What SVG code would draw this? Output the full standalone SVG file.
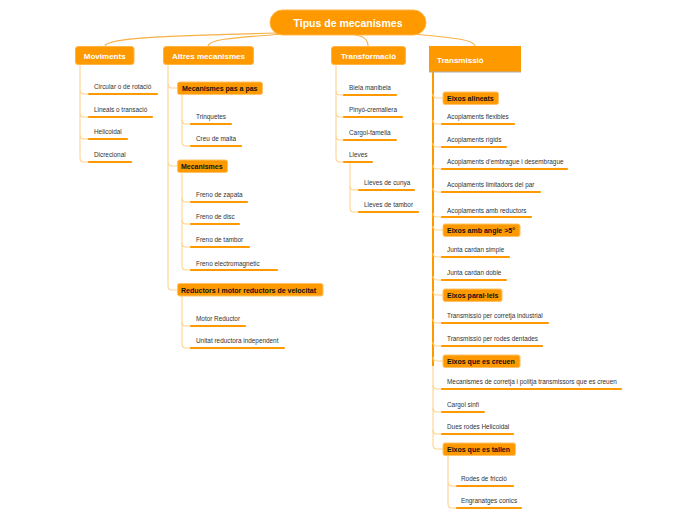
<svg xmlns="http://www.w3.org/2000/svg" width="696" height="520" viewBox="0 0 696 520">
<style>
.root{fill:#FF9900;stroke:#FFB648;stroke-width:1}
.l1{fill:#FF9900;stroke:#FFB648;stroke-width:1}
.l2{fill:#FF9900;stroke:#FFC266;stroke-width:1}
.t0{font-family:"Liberation Sans",Arial,sans-serif;font-weight:bold;font-size:10.5px;fill:#fff}
.t1{font-family:"Liberation Sans",Arial,sans-serif;font-weight:bold;font-size:8px;fill:#fff}
.t2{font-family:"Liberation Sans",Arial,sans-serif;font-weight:bold;font-size:7px;fill:#111}
.t3{font-family:"Liberation Sans",Arial,sans-serif;font-size:6.4px;fill:#333}
.ul{stroke:#FF9900;stroke-width:2.2;stroke-linecap:round;fill:none}
.c1{stroke:#F7B046;stroke-width:1.1;fill:none}
.cp{stroke:#FFD38F;stroke-width:1.1;fill:none}
.co{stroke:#FF9900;stroke-width:2;fill:none}
</style>
<g id="connectors">
<path class="c1" d="M278 33 C160 36 107 38 105 46"/>
<path class="c1" d="M285 34 C225 38 209 40 208 46"/>
<path class="c1" d="M355 35 C364 36 368 40 368 46"/>
<path class="c1" d="M412 34 C458 38 474 40 475 46"/>
<path class="cp" d="M80 65 V158"/>
<path class="cp" d="M80 90 Q80 94 84 94 H89"/>
<path class="cp" d="M80 113 Q80 117 84 117 H89"/>
<path class="cp" d="M80 135 Q80 139 84 139 H89"/>
<path class="cp" d="M80 158 Q80 162 84 162 H89"/>
<path class="cp" d="M168 65 V286"/>
<path class="cp" d="M168 84 Q168 88 172 88 H177"/>
<path class="cp" d="M168 162 Q168 166 172 166 H177"/>
<path class="cp" d="M168 286 Q168 290 172 290 H177"/>
<path class="cp" d="M182 95 V142"/>
<path class="cp" d="M182 120 Q182 124 186 124 H191"/>
<path class="cp" d="M182 142 Q182 146 186 146 H191"/>
<path class="cp" d="M182 172 V266"/>
<path class="cp" d="M182 198 Q182 202 186 202 H191"/>
<path class="cp" d="M182 220 Q182 224 186 224 H191"/>
<path class="cp" d="M182 243 Q182 247 186 247 H191"/>
<path class="cp" d="M182 266 Q182 270 186 270 H191"/>
<path class="cp" d="M182 296 V344"/>
<path class="cp" d="M182 322 Q182 326 186 326 H191"/>
<path class="cp" d="M182 344 Q182 348 186 348 H191"/>
<path class="cp" d="M336 65 V158"/>
<path class="cp" d="M336 91 Q336 95 340 95 H344"/>
<path class="cp" d="M336 113 Q336 117 340 117 H344"/>
<path class="cp" d="M336 136 Q336 140 340 140 H344"/>
<path class="cp" d="M336 158 Q336 162 340 162 H344"/>
<path class="cp" d="M350 162 V208"/>
<path class="cp" d="M350 186 Q350 190 354 190 H359"/>
<path class="cp" d="M350 208 Q350 212 354 212 H359"/>
<path class="cp" d="M433 72 V445"/>
<path class="co" d="M433 72 V366"/>
<path class="cp" d="M433 94 Q433 98 437 98 H443"/>
<path class="cp" d="M433 120 Q433 124 437 124 H442"/>
<path class="cp" d="M433 143 Q433 147 437 147 H442"/>
<path class="cp" d="M433 165 Q433 169 437 169 H442"/>
<path class="cp" d="M433 188 Q433 192 437 192 H442"/>
<path class="cp" d="M433 213 Q433 217 437 217 H442"/>
<path class="cp" d="M433 226 Q433 230 437 230 H443"/>
<path class="cp" d="M433 253 Q433 257 437 257 H442"/>
<path class="cp" d="M433 276 Q433 280 437 280 H442"/>
<path class="cp" d="M433 291 Q433 295 437 295 H443"/>
<path class="cp" d="M433 319 Q433 323 437 323 H442"/>
<path class="cp" d="M433 342 Q433 346 437 346 H442"/>
<path class="cp" d="M433 357 Q433 361 437 361 H443"/>
<path class="cp" d="M433 385 Q433 389 437 389 H442"/>
<path class="cp" d="M433 408 Q433 412 437 412 H442"/>
<path class="cp" d="M433 430 Q433 434 437 434 H442"/>
<path class="cp" d="M433 445 Q433 449 437 449 H443"/>
<path class="cp" d="M448 456 V504"/>
<path class="cp" d="M448 482 Q448 486 452 486 H457"/>
<path class="cp" d="M448 504 Q448 508 452 508 H457"/>
</g>
<g id="root"><rect class="root" x="270" y="10" width="156" height="25" rx="12.5"/><text class="t0" x="348" y="27" text-anchor="middle">Tipus de mecanismes</text></g>
<g id="moviments"><rect class="l1" x="75.5" y="46.5" width="58.5" height="18" rx="2.5"/><text class="t1" x="104.7" y="59" text-anchor="middle">Moviments</text></g>
<g id="altres"><rect class="l1" x="163.5" y="46.5" width="90" height="18" rx="2.5"/><text class="t1" x="208.5" y="59" text-anchor="middle">Altres mecanismes</text></g>
<g id="transformacio"><rect class="l1" x="331.5" y="46.5" width="74" height="18" rx="2.5"/><text class="t1" x="368.5" y="59" text-anchor="middle">Transformació</text></g>
<g id="transmissio"><rect x="429" y="46" width="92" height="26" fill="#FF9900"/><line x1="429" y1="72" x2="521" y2="72" stroke="#B0B0B0" stroke-width="1"/><text class="t1" x="437" y="63">Transmissió</text></g>

<g id="leaf-circular"><text class="t3" x="94" y="88.5">Circular o de rotació</text><line class="ul" x1="89" y1="94" x2="157" y2="94"/></g>
<g id="leaf-lineals"><text class="t3" x="94" y="111.5">Lineals o transació</text><line class="ul" x1="89" y1="117" x2="152" y2="117"/></g>
<g id="leaf-helicoidal"><text class="t3" x="94" y="133.5">Helicoidal</text><line class="ul" x1="89" y1="139" x2="127" y2="139"/></g>
<g id="leaf-dicrecional"><text class="t3" x="94" y="156.5">Dicrecional</text><line class="ul" x1="89" y1="162" x2="131" y2="162"/></g>

<g id="n-pasapas"><rect class="l2" x="177.5" y="82" width="85" height="12.5" rx="2"/><text class="t2" x="182" y="91">Mecanismes pas a pas</text></g>
<g id="leaf-trinquetes"><text class="t3" x="196" y="118.5">Trinquetes</text><line class="ul" x1="191" y1="124" x2="231" y2="124"/></g>
<g id="leaf-creu"><text class="t3" x="196" y="140.5">Creu de malta</text><line class="ul" x1="191" y1="146" x2="241" y2="146"/></g>
<g id="n-mecanismes"><rect class="l2" x="177.5" y="160" width="50" height="12.5" rx="2"/><text class="t2" x="181" y="169">Mecanismes</text></g>
<g id="leaf-zapata"><text class="t3" x="196" y="196.5">Freno de zapata</text><line class="ul" x1="191" y1="202" x2="247" y2="202"/></g>
<g id="leaf-disc"><text class="t3" x="196" y="218.5">Freno de disc</text><line class="ul" x1="191" y1="224" x2="239" y2="224"/></g>
<g id="leaf-tambor"><text class="t3" x="196" y="241.5">Freno de tambor</text><line class="ul" x1="191" y1="247" x2="249" y2="247"/></g>
<g id="leaf-electro"><text class="t3" x="196" y="265.5">Freno electromagnetic</text><line class="ul" x1="191" y1="270" x2="277" y2="270"/></g>
<g id="n-reductors"><rect class="l2" x="177.5" y="283.5" width="145.5" height="12.5" rx="2"/><text class="t2" x="181" y="292.5">Reductors i motor reductors de velocitat</text></g>
<g id="leaf-motor"><text class="t3" x="196" y="320.5">Motor Reductor</text><line class="ul" x1="191" y1="326" x2="245" y2="326"/></g>
<g id="leaf-unitat"><text class="t3" x="196" y="342.5">Unitat reductora independent</text><line class="ul" x1="191" y1="348" x2="284" y2="348"/></g>

<g id="leaf-biela"><text class="t3" x="349" y="89.5">Biela manibela</text><line class="ul" x1="344" y1="95" x2="396" y2="95"/></g>
<g id="leaf-pinyo"><text class="t3" x="349" y="111.5">Pinyó-cremallera</text><line class="ul" x1="344" y1="117" x2="402" y2="117"/></g>
<g id="leaf-cargol"><text class="t3" x="349" y="134.5">Cargol-famella</text><line class="ul" x1="344" y1="140" x2="396" y2="140"/></g>
<g id="leaf-lleves"><text class="t3" x="349" y="156.5">Lleves</text><line class="ul" x1="344" y1="162" x2="372" y2="162"/></g>
<g id="leaf-cunya"><text class="t3" x="364" y="184.5">Lleves de cunya</text><line class="ul" x1="359" y1="190" x2="414" y2="190"/></g>
<g id="leaf-lltambor"><text class="t3" x="364" y="206.5">Lleves de tambor</text><line class="ul" x1="359" y1="212" x2="418" y2="212"/></g>

<g id="n-alineats"><rect class="l2" x="443" y="92" width="55.5" height="12.5" rx="2"/><text class="t2" x="447" y="101">Eixos alineats</text></g>
<g id="leaf-flex"><text class="t3" x="447" y="118.5">Acoplaments flexibles</text><line class="ul" x1="442" y1="124" x2="514" y2="124"/></g>
<g id="leaf-rigids"><text class="t3" x="447" y="141.5">Acoplaments rígids</text><line class="ul" x1="442" y1="147" x2="506" y2="147"/></g>
<g id="leaf-embrague"><text class="t3" x="447" y="163.5">Acoplaments d’embrague i desembrague</text><line class="ul" x1="442" y1="169" x2="567" y2="169"/></g>
<g id="leaf-limit"><text class="t3" x="447" y="186.5">Acoplaments limitadors del par</text><line class="ul" x1="442" y1="192" x2="540" y2="192"/></g>
<g id="leaf-ambred"><text class="t3" x="447" y="212.5">Acoplaments amb reductors</text><line class="ul" x1="442" y1="217" x2="531" y2="217"/></g>
<g id="n-angle"><rect class="l2" x="443" y="224" width="77" height="12.5" rx="2"/><text class="t2" x="447" y="233">Eixos amb angle &gt;5°</text></g>
<g id="leaf-jsimple"><text class="t3" x="447" y="251.5">Junta cardan simple</text><line class="ul" x1="442" y1="257" x2="509" y2="257"/></g>
<g id="leaf-jdoble"><text class="t3" x="447" y="274.5">Junta cardan doble</text><line class="ul" x1="442" y1="280" x2="506" y2="280"/></g>
<g id="n-parallels"><rect class="l2" x="443" y="289" width="59" height="12.5" rx="2"/><text class="t2" x="447" y="298">Eixos paral·lels</text></g>
<g id="leaf-corretja"><text class="t3" x="447" y="317.5">Transmissió per corretja industrial</text><line class="ul" x1="442" y1="323" x2="548" y2="323"/></g>
<g id="leaf-rodesd"><text class="t3" x="447" y="340.5">Transmissió per rodes dentades</text><line class="ul" x1="442" y1="346" x2="542" y2="346"/></g>
<g id="n-creuen"><rect class="l2" x="443" y="355" width="77" height="12.5" rx="2"/><text class="t2" x="447" y="364">Eixos que es creuen</text></g>
<g id="leaf-politja"><text class="t3" x="447" y="383.5">Mecanismes de corretja i politja transmissors que es creuen</text><line class="ul" x1="442" y1="389" x2="621" y2="389"/></g>
<g id="leaf-sinfi"><text class="t3" x="447" y="406.5">Cargol sinfí</text><line class="ul" x1="442" y1="412" x2="484" y2="412"/></g>
<g id="leaf-helic"><text class="t3" x="447" y="428.5">Dues rodes Helicoidal</text><line class="ul" x1="442" y1="434" x2="513" y2="434"/></g>
<g id="n-tallen"><rect class="l2" x="443" y="443" width="72.5" height="12.5" rx="2"/><text class="t2" x="447" y="452">Eixos que es tallen</text></g>
<g id="leaf-friccio"><text class="t3" x="461" y="480.5">Rodes  de fricció</text><line class="ul" x1="457" y1="486" x2="513" y2="486"/></g>
<g id="leaf-conics"><text class="t3" x="461" y="502.5">Engranatges conics</text><line class="ul" x1="457" y1="508" x2="521" y2="508"/></g>
</svg>
